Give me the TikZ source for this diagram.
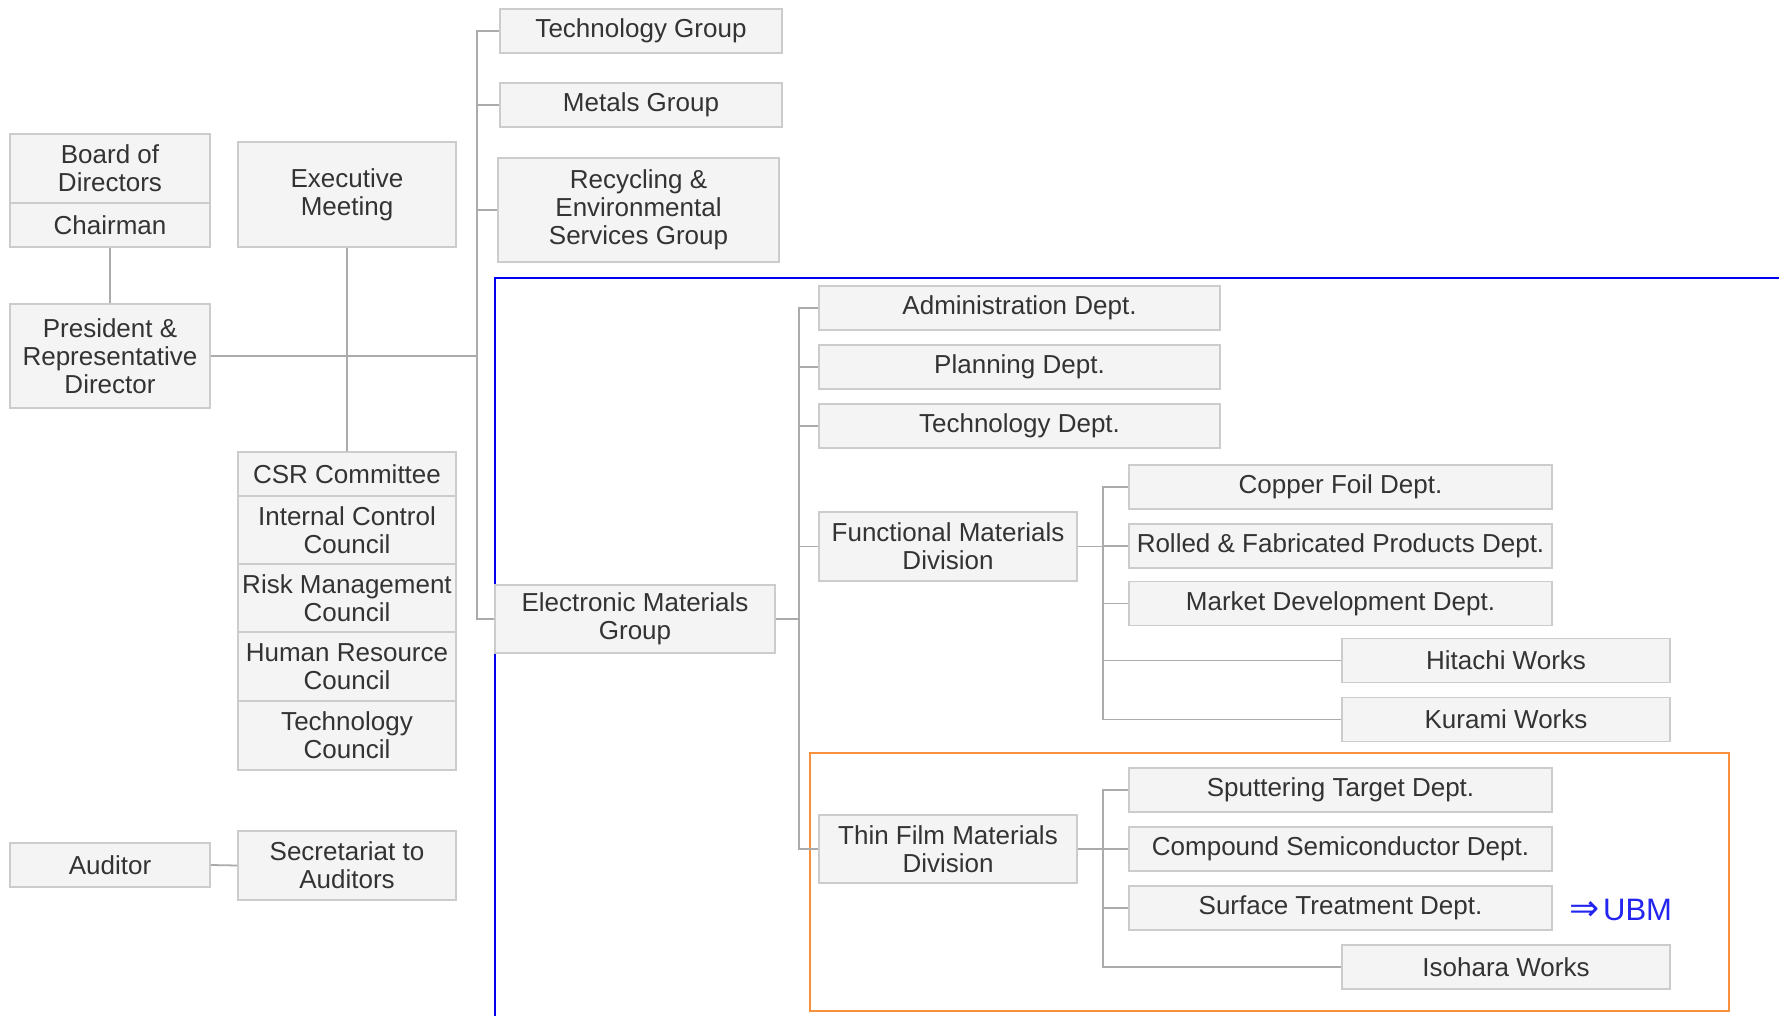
\documentclass[tikz,border=0pt]{standalone}
\usepackage{fontspec}
\setmainfont{Liberation Sans}
\newfontfamily\arrowfont{DejaVu Sans}
\definecolor{boxfill}{HTML}{F4F4F4}
\definecolor{boxline}{HTML}{CCCCCC}
\definecolor{linkgrey}{HTML}{ABABAB}
\definecolor{textgrey}{HTML}{333333}
\definecolor{emframe}{HTML}{0000EE}
\definecolor{tfframe}{HTML}{F7913D}
\definecolor{ubmblue}{HTML}{2424F0}
\begin{document}
\begin{tikzpicture}[x=1pt, y=-1pt,
  unit/.style={draw=boxline, fill=boxfill, line width=1.5pt, inner sep=0pt, align=center,
    text=textgrey, font=\fontsize{26}{28}\selectfont},
  link/.style={draw=linkgrey, line width=1.8pt}]
\useasboundingbox (0,0) rectangle (1779,1016);
% frames round the electronic materials group and the thin film division
\draw[emframe, line width=1.8pt] (495,1016) |- (1779,278);
\draw[tfframe, line width=2.2pt] (810,753) rectangle (1729,1011);

% management
\node[unit, minimum width=200pt, minimum height=69pt] (bod) at (110,168.5) {Board of\\Directors};
\node[unit, minimum width=200pt, minimum height=44pt] (chair) at (110,225) {Chairman};
\node[unit, minimum width=218pt, minimum height=105pt] (em) at (347,194.5) {Executive\\Meeting};
\node[unit, minimum width=200pt, minimum height=104pt] (pres) at (110,356) {President \&\\Representative\\Director};
\node[unit, minimum width=200pt, minimum height=44pt] (aud) at (110,865) {Auditor};
\node[unit, minimum width=218pt, minimum height=69pt] (sec) at (347,865.5) {Secretariat to\\Auditors};
\foreach \n/\y/\h/\t in {csr/474/44/CSR Committee, icc/530/68/Internal Control\\Council,
    rmc/598/68/Risk Management\\Council, hrc/666.5/69/Human Resource\\Council,
    tcc/735.5/69/Technology\\Council}
  \node[unit, minimum width=218pt, minimum height=\h pt] (\n) at (347,\y) {\t};

% groups
\node[unit, minimum width=282pt, minimum height=44pt] (tg) at (641,31) {Technology Group};
\node[unit, minimum width=282pt, minimum height=44pt] (mg) at (641,105) {Metals Group};
\node[unit, minimum width=281pt, minimum height=104pt] (rg) at (638.5,210) {Recycling \&\\Environmental\\Services Group};
\node[unit, minimum width=280pt, minimum height=68pt] (emg) at (635,619) {Electronic Materials\\Group};

% electronic materials group
\foreach \n/\y/\t in {admin/308/Administration Dept., plan/367/Planning Dept., techd/426/Technology Dept.}
  \node[unit, minimum width=401pt, minimum height=44pt] (\n) at (1019.5,\y) {\t};
\node[unit, minimum width=258pt, minimum height=69pt] (fmd) at (948,546.5) {Functional Materials\\Division};
\node[unit, minimum width=258pt, minimum height=68pt] (tfd) at (948,849) {Thin Film Materials\\Division};
\foreach \n/\y/\t in {cu/487/Copper Foil Dept., rolled/546/Rolled \& Fabricated Products Dept.,
    market/603.5/Market Development Dept., sput/790/Sputtering Target Dept.,
    comp/849/Compound Semiconductor Dept., surf/908/Surface Treatment Dept.}
  \node[unit, minimum width=423pt, minimum height=44pt] (\n) at (1340.5,\y) {\t};
\foreach \n/\y/\t in {hit/660.5/Hitachi Works, kur/719.5/Kurami Works, iso/967/Isohara Works}
  \node[unit, minimum width=328pt, minimum height=44pt] (\n) at (1506,\y) {\t};
\node[text=ubmblue, font=\fontsize{31}{34}\selectfont, inner sep=0pt] (ubm) at (1621,910)
  {{\arrowfont\fontsize{36}{36}\selectfont ⇒}\kern3pt UBM};

% connectors
\coordinate (j1) at (477,356);
\coordinate (j2) at (799,619);
\coordinate (j3) at (1103,546.5);
\coordinate (j4) at (1103,849);
\draw[link] (chair.south) -- (pres.north);
\draw[link] (em.south) -- (csr.north);
\draw[link] (pres.east) -- (j1);
\draw[link] (aud.east) -- (sec.west);
\foreach \n in {tg,mg,rg,emg}
  \draw[link] (j1) |- (\n.west);
\draw[link] (emg.east) -- (j2);
\foreach \n in {admin,plan,techd,fmd,tfd}
  \draw[link] (j2) |- (\n.west);
\draw[link] (fmd.east) -- (j3);
\foreach \n in {cu,rolled,market,hit,kur}
  \draw[link] (j3) |- (\n.west);
\draw[link] (tfd.east) -- (j4);
\foreach \n in {sput,comp,surf,iso}
  \draw[link] (j4) |- (\n.west);
\end{tikzpicture}
\end{document}
